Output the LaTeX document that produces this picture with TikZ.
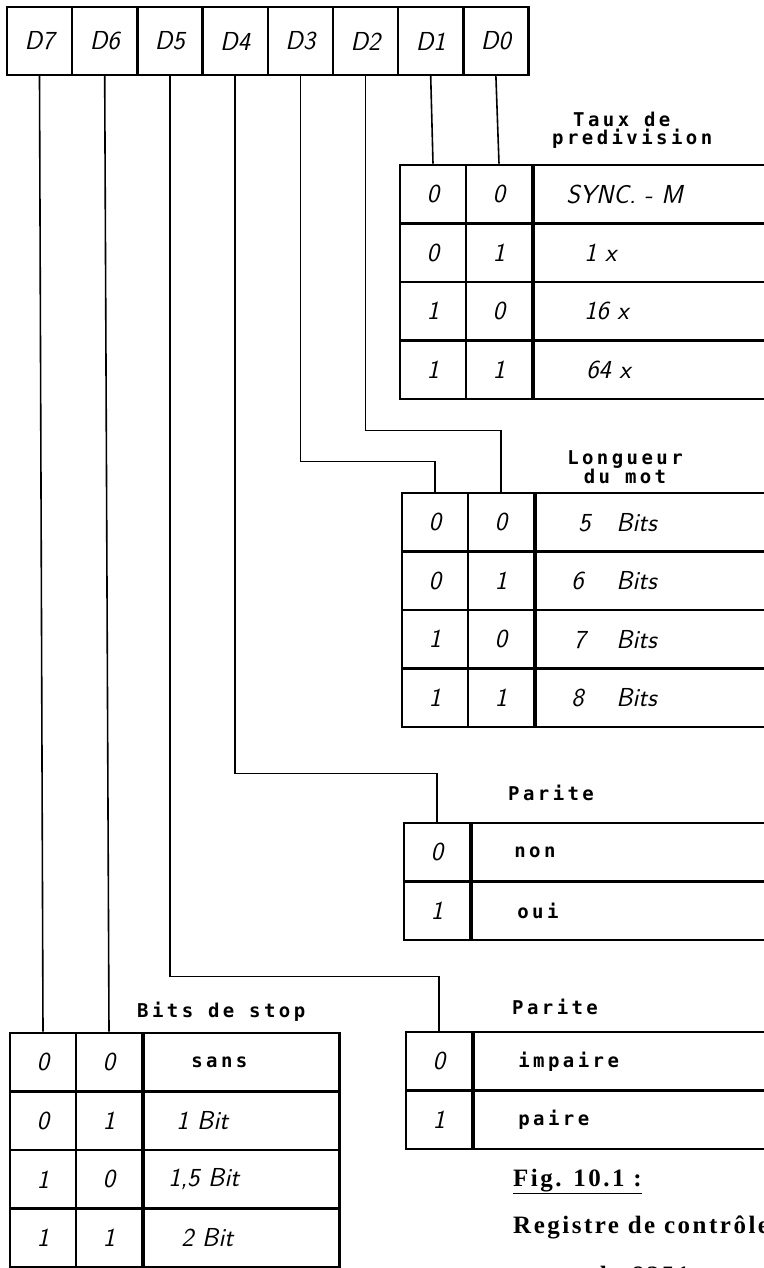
\documentclass[tikz,border=0pt]{standalone}
\usepackage{fontspec}
\usepackage{tikz}
\newfontfamily\dotfont[LetterSpace=18]{DejaVu Sans Mono Bold}
\newfontfamily\capfont[LetterSpace=10]{Liberation Serif Bold}
\newcommand{\hand}{\sffamily\itshape\fontsize{26}{30}\selectfont}
\newcommand{\dottxt}{\dotfont\upshape\fontsize{19}{18}\selectfont}

\begin{document}
\begin{tikzpicture}[
    x=1pt, y=-1pt,
    regbox/.style={
      rectangle, draw, line width=2.4pt, minimum width=65.2pt,
      minimum height=68pt, inner sep=0pt, font=\hand
    },
    bitbox/.style={
      rectangle, draw, line width=2.7pt, minimum width=66pt,
      minimum height=58.5pt, inner sep=0pt, font=\hand
    },
    valbox/.style n args={2}{
      rectangle, draw, line width=2.7pt, anchor=west,
      minimum height=58.5pt, inner ysep=0pt, inner xsep=#1,
      text width=#2, align=left, font=\hand
    },
    heading/.style={font=\dottxt, inner sep=0pt},
    capt/.style={font=\capfont\fontsize{25}{50}\selectfont, inner sep=0pt},
    wire/.style={line width=1.6pt}
  ]
  \useasboundingbox (0,0) rectangle (763,1268);

  %% Control register D7 ... D0
  \node[regbox] (d7) at (39.5,41)  {D7};
  \node[regbox] (d6) at (104.7,41) {D6};
  \node[regbox] (d5) at (169.9,41) {D5};
  \node[regbox] (d4) at (235.1,41) {D4};
  \node[regbox] (d3) at (300.3,41) {D3};
  \node[regbox] (d2) at (365.5,41) {D2};
  \node[regbox] (d1) at (430.7,41) {D1};
  \node[regbox] (d0) at (495.9,41) {D0};

  %% Taux de predivision (D1 D0)
  \node[heading, anchor=west, align=left] (tptitle) at (552,130)
    {\hspace*{21pt}Taux de\\predivision};
  \node[bitbox] (tp11) at (433,194.25) {0};
  \node[bitbox] (tp12) at (499,194.25) {0};
  \node[valbox={33pt}{240pt}] (tp13) at (532,194.25) {SYNC. - M};
  \node[bitbox] (tp21) at (433,252.75) {0};
  \node[bitbox] (tp22) at (499,252.75) {1};
  \node[valbox={33pt}{240pt}] (tp23) at (532,252.75) {\hspace*{18pt}1 x};
  \node[bitbox] (tp31) at (433,311.25) {1};
  \node[bitbox] (tp32) at (499,311.25) {0};
  \node[valbox={33pt}{240pt}] (tp33) at (532,311.25) {\hspace*{18pt}16 x};
  \node[bitbox] (tp41) at (433,369.75) {1};
  \node[bitbox] (tp42) at (499,369.75) {1};
  \node[valbox={33pt}{240pt}] (tp43) at (532,369.75) {\hspace*{20pt}64 x};

  %% Longueur du mot (D3 D2)
  \node[heading, align=center] (lmtitle) at (625,467) {Longueur\\du mot};
  \node[bitbox] (lm11) at (435,522.25) {0};
  \node[bitbox] (lm12) at (501,522.25) {0};
  \node[valbox={36pt}{240pt}] (lm13) at (534,522.25)
    {\makebox[45pt][l]{\hspace*{7pt}5}Bits};
  \node[bitbox] (lm21) at (435,580.75) {0};
  \node[bitbox] (lm22) at (501,580.75) {1};
  \node[valbox={36pt}{240pt}] (lm23) at (534,580.75) {\makebox[45pt][l]{6}Bits};
  \node[bitbox] (lm31) at (435,639.25) {1};
  \node[bitbox] (lm32) at (501,639.25) {0};
  \node[valbox={36pt}{240pt}] (lm33) at (534,639.25)
    {\makebox[45pt][l]{\hspace*{2pt}7}Bits};
  \node[bitbox] (lm41) at (435,697.75) {1};
  \node[bitbox] (lm42) at (501,697.75) {1};
  \node[valbox={36pt}{240pt}] (lm43) at (534,697.75) {\makebox[45pt][l]{8}Bits};

  %% Parite oui/non (D4)
  \node[heading, anchor=west] (petitle) at (508,793) {Parite};
  \node[bitbox] (pe11) at (437,852.25) {0};
  \node[valbox={43pt}{240pt}] (pe12) at (470,852.25) {\dottxt non};
  \node[bitbox] (pe21) at (437,910.75) {1};
  \node[valbox={43pt}{240pt}] (pe22) at (470,910.75) {\dottxt\hspace*{3pt}oui};

  %% Parite paire/impaire (D5)
  \node[heading, anchor=west] (pttitle) at (512,1007) {Parite};
  \node[bitbox] (pt11) at (439,1061.25) {0};
  \node[valbox={45pt}{240pt}] (pt12) at (472,1061.25) {\dottxt impaire};
  \node[bitbox] (pt21) at (439,1119.75) {1};
  \node[valbox={45pt}{240pt}] (pt22) at (472,1119.75) {\dottxt paire};

  %% Bits de stop (D7 D6)
  \node[heading, anchor=west] (bstitle) at (137,1012) {Bits de stop};
  \node[bitbox] (bs11) at (43,1062.25)  {0};
  \node[bitbox] (bs12) at (109,1062.25) {0};
  \node[valbox={25pt}{146pt}] (bs13) at (142,1062.25) {\dottxt\hspace*{23pt}sans};
  \node[bitbox] (bs21) at (43,1120.75)  {0};
  \node[bitbox] (bs22) at (109,1120.75) {1};
  \node[valbox={25pt}{146pt}] (bs23) at (142,1120.75) {\hspace*{8pt}1 Bit};
  \node[bitbox] (bs31) at (43,1179.25)  {1};
  \node[bitbox] (bs32) at (109,1179.25) {0};
  \node[valbox={25pt}{146pt}] (bs33) at (142,1179.25) {1,5 Bit};
  \node[bitbox] (bs41) at (43,1237.75)  {1};
  \node[bitbox] (bs42) at (109,1237.75) {1};
  \node[valbox={25pt}{146pt}] (bs43) at (142,1237.75) {\hspace*{13pt}2 Bit};

  %% Wires from the register bits
  \draw[wire] (d7.south) -- (bs11.north);
  \draw[wire] (d6.south) -- (bs12.north);
  \draw[wire] (d5.south) |- ([yshift=54pt]pt11.north) -- (pt11.north);
  \draw[wire] (d4.south) |- ([yshift=48pt]pe11.north) -- (pe11.north);
  \draw[wire] (d3.south) |- ([yshift=30pt]lm11.north) -- (lm11.north);
  \draw[wire] (d2.south) |- ([yshift=61pt]lm12.north) -- (lm12.north);
  \draw[wire] (d1.south) -- (tp11.north);
  \draw[wire] (d0.south) -- (tp12.north);

  %% Caption
  \node[capt, anchor=base west] (fig) at (513,1186) {\underline{Fig. 10.1 :}};
  \node[capt, anchor=north west, align=center] (figtxt) at (513,1216)
    {Registre de contrôle\\du 8251};

\end{tikzpicture}
\end{document}
